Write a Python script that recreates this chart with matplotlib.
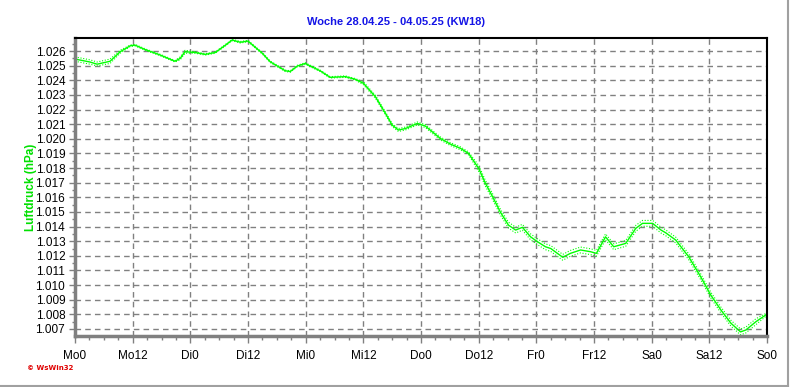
import matplotlib
matplotlib.use("Agg")
import matplotlib.pyplot as plt
from matplotlib.ticker import FixedLocator, FuncFormatter, MultipleLocator
from matplotlib.lines import Line2D

# hours since Monday 00:00
hours = [0, 3.1, 4.6, 7.3, 9.4, 11.5, 12.5, 14.6, 17.7, 20.8, 21.9, 22.9, 25.0, 27.1,
         29.2, 31.3, 32.7, 34.4, 36.0, 39.0, 40.6, 43.75, 44.8, 46.25, 47.9, 49.0,
         51.0, 53.1, 56.25, 58.3, 60.0, 62.5, 64.6, 66.0, 67.3, 68.75, 71.25, 72.9,
         76.0, 78.1, 80.2, 81.9, 84.0, 85.4, 86.9, 88.5, 90.2, 91.7, 93.1, 94.8,
         96.25, 97.9, 99.0, 101.5, 103.1, 105.2, 107.3, 108.5, 110.4, 112.1, 114.6,
         116.7, 118.1, 120.2, 121.9, 122.9, 125.0, 127.7, 130.2, 132.3, 134.4, 136.5,
         138.5, 139.6, 141.7, 143.75]

pressure = [1025.45, 1025.25, 1025.1, 1025.3, 1025.95, 1026.36, 1026.4, 1026.1, 1025.73,
            1025.3, 1025.5, 1025.95, 1025.9, 1025.77, 1025.9, 1026.4, 1026.75, 1026.6,
            1026.68, 1025.84, 1025.27, 1024.65, 1024.6, 1024.97, 1025.15, 1024.97,
            1024.65, 1024.2, 1024.25, 1024.07, 1023.8, 1022.88, 1021.74, 1020.94,
            1020.6, 1020.7, 1021.05, 1020.87, 1020.03, 1019.64, 1019.35, 1019.0,
            1017.98, 1016.96, 1016.04, 1015.0, 1014.1, 1013.76, 1013.95, 1013.3,
            1012.96, 1012.62, 1012.5, 1011.9, 1012.17, 1012.4, 1012.28, 1012.17,
            1013.3, 1012.62, 1012.85, 1013.88, 1014.22, 1014.22, 1013.77, 1013.58,
            1013.08, 1011.94, 1010.57, 1009.32, 1008.3, 1007.39, 1006.8, 1006.93,
            1007.5, 1007.96]

pressure_hi = [1025.6, 1025.4, 1025.25, 1025.45, 1026.05, 1026.41, 1026.45, 1026.15, 1025.78,
               1025.35, 1025.6, 1026.05, 1025.95, 1025.82, 1025.95, 1026.45, 1026.8, 1026.65,
               1026.73, 1025.89, 1025.32, 1024.7, 1024.65, 1025.02, 1025.2, 1025.02,
               1024.7, 1024.25, 1024.3, 1024.12, 1023.9, 1022.98, 1021.84, 1021.04,
               1020.7, 1020.8, 1021.15, 1020.97, 1020.13, 1019.74, 1019.45, 1019.1,
               1018.18, 1017.16, 1016.24, 1015.2, 1014.3, 1013.96, 1014.15, 1013.5,
               1013.16, 1012.82, 1012.7, 1012.1, 1012.37, 1012.6, 1012.48, 1012.37,
               1013.5, 1012.82, 1013.05, 1014.08, 1014.42, 1014.42, 1013.97, 1013.78,
               1013.28, 1012.14, 1010.77, 1009.52, 1008.5, 1007.59, 1007.0, 1007.13,
               1007.7, 1008.06]

pressure_lo = [1025.3, 1025.1, 1024.98, 1025.15, 1025.85, 1026.31, 1026.35, 1026.05, 1025.68,
               1025.25, 1025.4, 1025.85, 1025.85, 1025.72, 1025.85, 1026.35, 1026.7, 1026.55,
               1026.63, 1025.79, 1025.22, 1024.6, 1024.55, 1024.92, 1025.1, 1024.92,
               1024.6, 1024.15, 1024.2, 1024.02, 1023.7, 1022.78, 1021.64, 1020.84,
               1020.5, 1020.6, 1020.95, 1020.77, 1019.93, 1019.54, 1019.25, 1018.9,
               1017.78, 1016.76, 1015.84, 1014.8, 1013.9, 1013.56, 1013.75, 1013.1,
               1012.76, 1012.42, 1012.3, 1011.7, 1011.97, 1012.2, 1012.08, 1011.97,
               1013.1, 1012.42, 1012.65, 1013.68, 1014.02, 1014.02, 1013.57, 1013.38,
               1012.88, 1011.74, 1010.37, 1009.12, 1008.1, 1007.19, 1006.6, 1006.73,
               1007.3, 1007.86]

xtick_hours = [0, 12, 24, 36, 48, 60, 72, 84, 96, 108, 120, 132, 144]
xtick_labels = ["Mo0", "Mo12", "Di0", "Di12", "Mi0", "Mi12", "Do0", "Do12",
                "Fr0", "Fr12", "Sa0", "Sa12", "So0"]
ytick_values = list(range(1007, 1027))

title = "Woche 28.04.25 - 04.05.25 (KW18)"
ylabel = "Luftdruck (hPa)"

W, H = 792, 387
fig = plt.figure(figsize=(W / 100, H / 100), dpi=100)
fig.patch.set_facecolor("white")
ax = fig.add_axes([75 / W, 1 - 336 / H, (767 - 75) / W, (336 - 38) / H])

green = "#00FF00"
ax.plot(hours, pressure_hi, color=green, lw=0.8, ls=(0, (1, 1.5)))
ax.plot(hours, pressure_lo, color=green, lw=0.8, ls=(0, (1, 1.5)))
ax.plot(hours, pressure, color=green, lw=1.0)

ax.set_xlim(0, 144)
ax.set_ylim(1006.52, 1026.89)

ax.xaxis.set_major_locator(FixedLocator(xtick_hours))
ax.set_xticklabels(xtick_labels)
ax.xaxis.set_minor_locator(MultipleLocator(3))
ax.yaxis.set_major_locator(FixedLocator(ytick_values))
ax.yaxis.set_major_formatter(FuncFormatter(lambda v, p: f"{v / 1000:.3f}"))
ax.yaxis.set_minor_locator(MultipleLocator(0.5))

ax.grid(True, which="major", color="#808080", ls=(0, (4, 3)), lw=1.0)

for lab in ax.get_xticklabels() + ax.get_yticklabels():
    lab.set_fontfamily("Liberation Sans")
    lab.set_fontsize(8.5)
    lab.set_color("black")

ax.tick_params(axis="x", which="major", length=5, width=1, color="#808080", pad=5)
ax.tick_params(axis="x", which="minor", length=3, width=1, color="#808080")
ax.tick_params(axis="y", which="major", length=4, width=1, color="#808080", pad=3)
ax.tick_params(axis="y", which="minor", length=2, width=1, color="#808080")

ax.spines["left"].set_color("#808080")
ax.spines["left"].set_linewidth(2.5)
ax.spines["bottom"].set_color("#808080")
ax.spines["bottom"].set_linewidth(2.5)
ax.spines["top"].set_color("black")
ax.spines["top"].set_linewidth(1.5)
ax.spines["right"].set_color("black")
ax.spines["right"].set_linewidth(1.5)

fig.text(396 / W, 1 - 22 / H, title, ha="center", va="center", color="#1414E6",
         fontsize=8, fontweight="bold", family="Liberation Sans")
fig.text(31 / W, 1 - 187 / H, ylabel, ha="center", va="center", rotation=90,
         color="#00E000", fontsize=8.5, fontweight="bold", family="Liberation Sans")
fig.text(27 / W, 1 - 368 / H, "© WsWin32", ha="left", va="center", color="#E00000",
         fontsize=5, fontweight="bold", family="DejaVu Sans")

fig.add_artist(Line2D([788 / W, 788 / W], [1 - 386 / H, 1], color="#A0A0A0", lw=1.5))
fig.add_artist(Line2D([0, 788 / W], [1 - 386 / H, 1 - 386 / H], color="#A0A0A0", lw=1.5))

fig.savefig("out.png", dpi=100)
